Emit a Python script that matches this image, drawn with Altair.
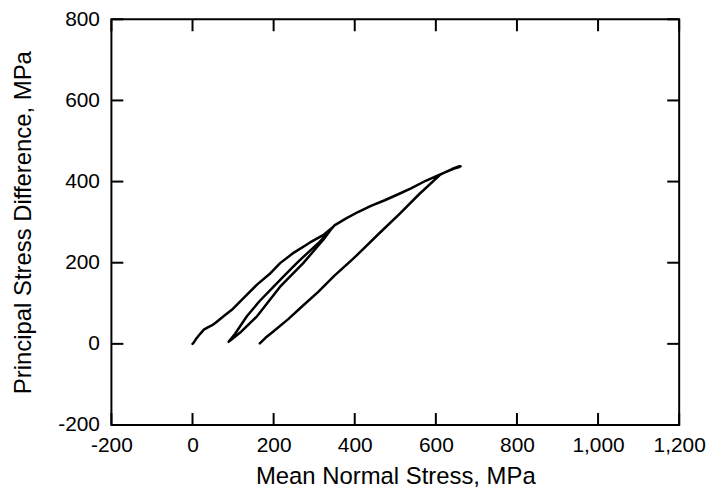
import altair as alt
import pandas as pd

# Mean normal stress (MPa) and principal stress difference (MPa) along the load path
mean_stress = [
    # initial loading
    0, 3, 10, 20, 28, 40, 50, 57, 75, 97, 130, 159, 190, 216, 250, 290, 322, 345,
    # first unloading
    322, 273, 216, 159, 120, 100, 89,
    # reloading
    105, 134, 165, 200, 230, 257, 290, 314, 335, 350,
    # loading to peak
    380, 408, 440, 474, 510, 540, 575, 611, 630, 645, 658, 661, 655, 640, 625, 611,
    # final unloading
    560, 510, 460, 408, 391, 350, 310, 270, 236, 200, 180, 166,
]
stress_diff = [
    0, 3, 14, 26, 35, 42, 47, 52, 67, 84, 117, 146, 172, 199, 225, 250, 268, 287,
    256, 199, 141, 68, 30, 14, 5,
    25, 68, 105, 141, 172, 199, 230, 252, 275, 292,
    310, 325, 340, 354, 370, 384, 402, 418, 426, 432, 436, 438, 437, 431, 424, 417,
    370, 320, 272, 221, 205, 168, 128, 92, 61, 31, 15, 1,
]

x_ticks = [-200, 0, 200, 400, 600, 800, 1000, 1200]
y_ticks = [-200, 0, 200, 400, 600, 800]

X_TITLE = "Mean Normal Stress, MPa"
Y_TITLE = "Principal Stress Difference, MPa"

W, H = 571, 408
TICK = 12

df = pd.DataFrame({"x": mean_stress, "y": stress_diff, "order": list(range(len(mean_stress)))})
dfx = pd.DataFrame({"x": x_ticks})
dfy = pd.DataFrame({"y": y_ticks})

label_expr = "datum.value < 0 ? '-' + format(-datum.value, ',d') : format(datum.value, ',d')"

xscale = alt.Scale(domain=[-200, 1200], nice=False, zero=False)
yscale = alt.Scale(domain=[-200, 800], nice=False, zero=False)

xaxis = alt.Axis(values=x_ticks, labelExpr=label_expr, labelPadding=10,
                 titleY=59, titleBaseline="alphabetic")
yaxis = alt.Axis(values=y_ticks, labelExpr=label_expr, labelPadding=12,
                 titleX=-81, titleBaseline="alphabetic")

line = alt.Chart(df).mark_line(color="black", strokeWidth=2.5, strokeJoin="round",
                               strokeCap="round").encode(
    x=alt.X("x:Q", scale=xscale, axis=xaxis, title=X_TITLE),
    y=alt.Y("y:Q", scale=yscale, axis=yaxis, title=Y_TITLE),
    order="order:Q",
)

bottom_ticks = alt.Chart(dfx).mark_rule(color="black", strokeWidth=2).encode(
    x=alt.X("x:Q", scale=xscale, title=X_TITLE), y=alt.value(H), y2=alt.value(H - TICK))
top_ticks = alt.Chart(dfx).mark_rule(color="black", strokeWidth=2).encode(
    x=alt.X("x:Q", scale=xscale, title=X_TITLE), y=alt.value(0), y2=alt.value(TICK))
left_ticks = alt.Chart(dfy).mark_rule(color="black", strokeWidth=2).encode(
    y=alt.Y("y:Q", scale=yscale, title=Y_TITLE), x=alt.value(0), x2=alt.value(TICK))
right_ticks = alt.Chart(dfy).mark_rule(color="black", strokeWidth=2).encode(
    y=alt.Y("y:Q", scale=yscale, title=Y_TITLE), x=alt.value(W), x2=alt.value(W - TICK))

chart = alt.layer(line, bottom_ticks, top_ticks, left_ticks, right_ticks).properties(
    width=W, height=H,
    autosize=alt.AutoSizeParams(type="none"),
    padding={"left": 104, "top": 10, "right": 30, "bottom": 62},
).configure_view(
    stroke="black", strokeWidth=2
).configure_axis(
    labelFont="Liberation Sans", labelFontSize=21, labelColor="black",
    titleFont="Liberation Sans", titleFontSize=24, titleFontWeight="normal", titleColor="black",
    ticks=False, domain=False, grid=False, labelFlush=False, labelOverlap=False,
)

chart.save("out.html", embed_options={"renderer": "svg", "actions": False})
